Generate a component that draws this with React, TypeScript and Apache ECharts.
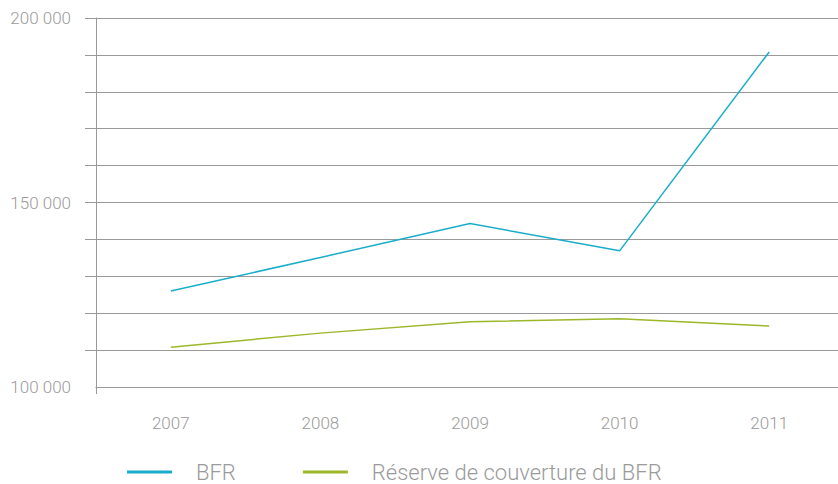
import React, { useEffect, useRef } from "react";
import * as echarts from "echarts";

const years = ["2007", "2008", "2009", "2010", "2011"];
const bfr = [126000, 135100, 144300, 136900, 190800];
const reserve = [110800, 114600, 117700, 118500, 116500];
const seriesNames = ["BFR", "Réserve de couverture du BFR"];
const yLabelValues = [100000, 150000, 200000];

const GRID = "#999999";
const TEXT = "#9a9a9a";
const FONT = "Roboto";

export default function App() {
  const ref = useRef<HTMLDivElement>(null);
  useEffect(() => {
    document.body.style.margin = "0";
    document.body.style.overflow = "hidden";
    const chart = echarts.init(ref.current!, null, { renderer: "svg" });
    chart.setOption({
      animation: false,
      backgroundColor: "#ffffff",
      grid: { left: 96, width: 748, top: 18, height: 369 },
      legend: {
        left: 127,
        top: 460,
        padding: 0,
        itemWidth: 45,
        itemHeight: 3,
        itemGap: 67,
        icon: "rect",
        textStyle: {
          color: TEXT,
          fontFamily: FONT,
          fontWeight: 300,
          fontSize: 22,
          lineHeight: 24,
          padding: [0, 0, 0, 19],
        },
        data: seriesNames,
      },
      xAxis: {
        type: "category",
        data: years,
        boundaryGap: true,
        axisLine: { show: true, lineStyle: { color: GRID, width: 1 } },
        axisTick: {
          show: true,
          length: 7,
          interval: (i: number) => i === 0,
          lineStyle: { color: GRID },
        },
        axisLabel: {
          color: TEXT,
          fontFamily: FONT,
          fontWeight: 300,
          fontSize: 17,
          margin: 27,
        },
      },
      yAxis: {
        type: "value",
        min: 100000,
        max: 200000,
        interval: 10000,
        axisLine: { show: true, lineStyle: { color: GRID, width: 1 } },
        axisTick: { show: true, length: 11, lineStyle: { color: GRID } },
        splitLine: { show: true, lineStyle: { color: GRID, width: 1 } },
        axisLabel: {
          color: TEXT,
          fontFamily: FONT,
          fontWeight: 300,
          fontSize: 17,
          margin: 25,
          formatter: (v: number) =>
            yLabelValues.includes(v)
              ? String(v).replace(/\B(?=(\d{3})+(?!\d))/g, " ")
              : "",
        },
      },
      series: [
        {
          name: seriesNames[0],
          type: "line",
          data: bfr,
          symbol: "none",
          color: "#1aadc9",
          lineStyle: { color: "#1aadc9", width: 1.5 },
        },
        {
          name: seriesNames[1],
          type: "line",
          data: reserve,
          symbol: "none",
          color: "#9cb72a",
          lineStyle: { color: "#9cb72a", width: 1.5 },
        },
      ],
      graphic: [
        {
          type: "rect",
          left: 83,
          top: 383,
          shape: { width: 12.5, height: 8 },
          style: { fill: "#ffffff" },
          z: 100,
        },
      ],
    });
    return () => chart.dispose();
  }, []);
  return <div ref={ref} style={{ width: 846, height: 484 }} />;
}
